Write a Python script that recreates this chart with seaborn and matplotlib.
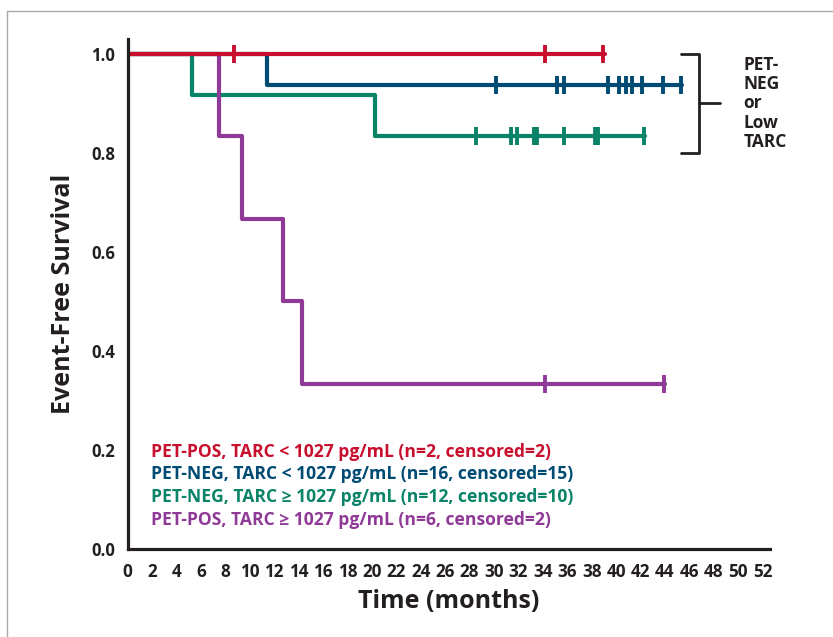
import numpy as np
import pandas as pd
import matplotlib
matplotlib.use("Agg")
import matplotlib.pyplot as plt
import matplotlib.patches as patches
import seaborn as sns

# 그룹별 데이터
groups = ["PET-POS, TARC < 1027 pg/mL (n=2, censored=2)",
          "PET-NEG, TARC < 1027 pg/mL (n=16, censored=15)",
          "PET-NEG, TARC \u2265 1027 pg/mL (n=12, censored=10)",
          "PET-POS, TARC \u2265 1027 pg/mL (n=6, censored=2)"]
colors = ["#C8102E", "#004B73", "#0A8469", "#8E3A96"]

# 계단 시작 시간 / 생존율
red_t = [0, 39.1]
red_s = [1.0, 1.0]
blue_t = [0, 11.4, 45.4]
blue_s = [1.0, 0.9375, 0.9375]
green_t = [0, 5.25, 20.3, 42.4]
green_s = [1.0, 0.9167, 0.8333, 0.8333]
purple_t = [0, 7.45, 9.4, 12.7, 14.3, 44.0]
purple_s = [1.0, 0.8333, 0.6667, 0.5, 0.3333, 0.3333]

# 중도절단 시간
red_c = [8.7, 34.2, 38.9]
blue_c = [30.2, 35.2, 35.7, 39.3, 40.2, 40.8, 41.3, 42.1, 43.8, 45.3]
green_c = [28.5, 31.4, 31.9, 33.3, 33.5, 35.7, 38.3, 38.5, 42.3]
purple_c = [34.2, 43.9]

xticks = list(range(0, 53, 2))
yticks = [0.0, 0.2, 0.4, 0.6, 0.8, 1.0]

steps = [(red_t, red_s, red_c), (blue_t, blue_s, blue_c),
         (green_t, green_s, green_c), (purple_t, purple_s, purple_c)]

sns.set_style("white")
plt.rcParams['font.family'] = ['Open Sans', 'DejaVu Sans']

fig = plt.figure(figsize=(8.33, 6.37), dpi=100)
ax = fig.add_axes([127.5/833, 88/637, 642.5/833, 510/637])

# 그리는 순서: green, purple, blue, red (red가 맨 위)
for i in [2, 3, 1, 0]:
    t, s, c = steps[i]
    df = pd.DataFrame({"t": t, "s": s})
    sns.lineplot(data=df, x="t", y="s", drawstyle="steps-post",
                 estimator=None, sort=False, color=colors[i],
                 linewidth=3, ax=ax)
    # 중도절단 위치의 생존율
    idx = np.searchsorted(t, c, side="right") - 1
    cdf = pd.DataFrame({"t": c, "s": np.array(s)[idx]})
    ax.plot(cdf["t"], cdf["s"], linestyle="none", marker="|",
            markersize=12.5, markeredgewidth=2.8, color=colors[i])

ax.set_xlim(0, 52.6)
ax.set_ylim(0, 1.03)
ax.set_xticks(xticks)
ax.set_yticks(yticks)
ax.set_yticklabels(["%.1f" % v for v in yticks], fontsize=12,
                   fontweight="bold")
ax.set_xticklabels([str(v) for v in xticks], fontsize=12.3,
                   fontweight="bold")
ax.tick_params(axis="x", direction="out", length=6, width=2, pad=4, colors="#231F20")
ax.tick_params(axis="y", direction="out", length=5, width=2, pad=4, colors="#231F20")
for sp in ["top", "right"]:
    ax.spines[sp].set_visible(False)
for sp in ["left", "bottom"]:
    ax.spines[sp].set_linewidth(2.3)
    ax.spines[sp].set_color("#231F20")
ax.set_xlabel("Time (months)", fontsize=18, fontweight="bold", labelpad=6, color="#231F20")
ax.set_ylabel("Event-Free Survival", fontsize=18, fontweight="bold", labelpad=11, color="#231F20")

# 범례 텍스트
for k, (g, col) in enumerate(zip(groups, colors)):
    ax.text(1.95, 0.196 - k*0.0455, g, color=col, fontsize=12.6,
            fontweight="bold", va="center", ha="left")

# 오른쪽 괄호
bx0, bx1, bx2 = 45.3, 46.8, 48.5
ax.plot([bx0, bx1, bx1, bx0], [1.0, 1.0, 0.8, 0.8], color="#231F20",
        lw=2, clip_on=False)
ax.plot([bx1, bx2], [0.9, 0.9], color="#231F20", lw=2, clip_on=False)
ax.text(50.4, 0.9, "PET-\nNEG\nor\nLow\nTARC", fontsize=12.5, fontweight="bold",
        color="#231F20", va="center", ha="left", linespacing=1.1)

# 바깥 테두리
fig.patches.append(patches.Rectangle((7/833, -0.2), 1.5, 1.2 - 11/637,
                                     transform=fig.transFigure, fill=False,
                                     edgecolor="#A7A9AC", lw=1))

fig.savefig("out.png", dpi=100)
